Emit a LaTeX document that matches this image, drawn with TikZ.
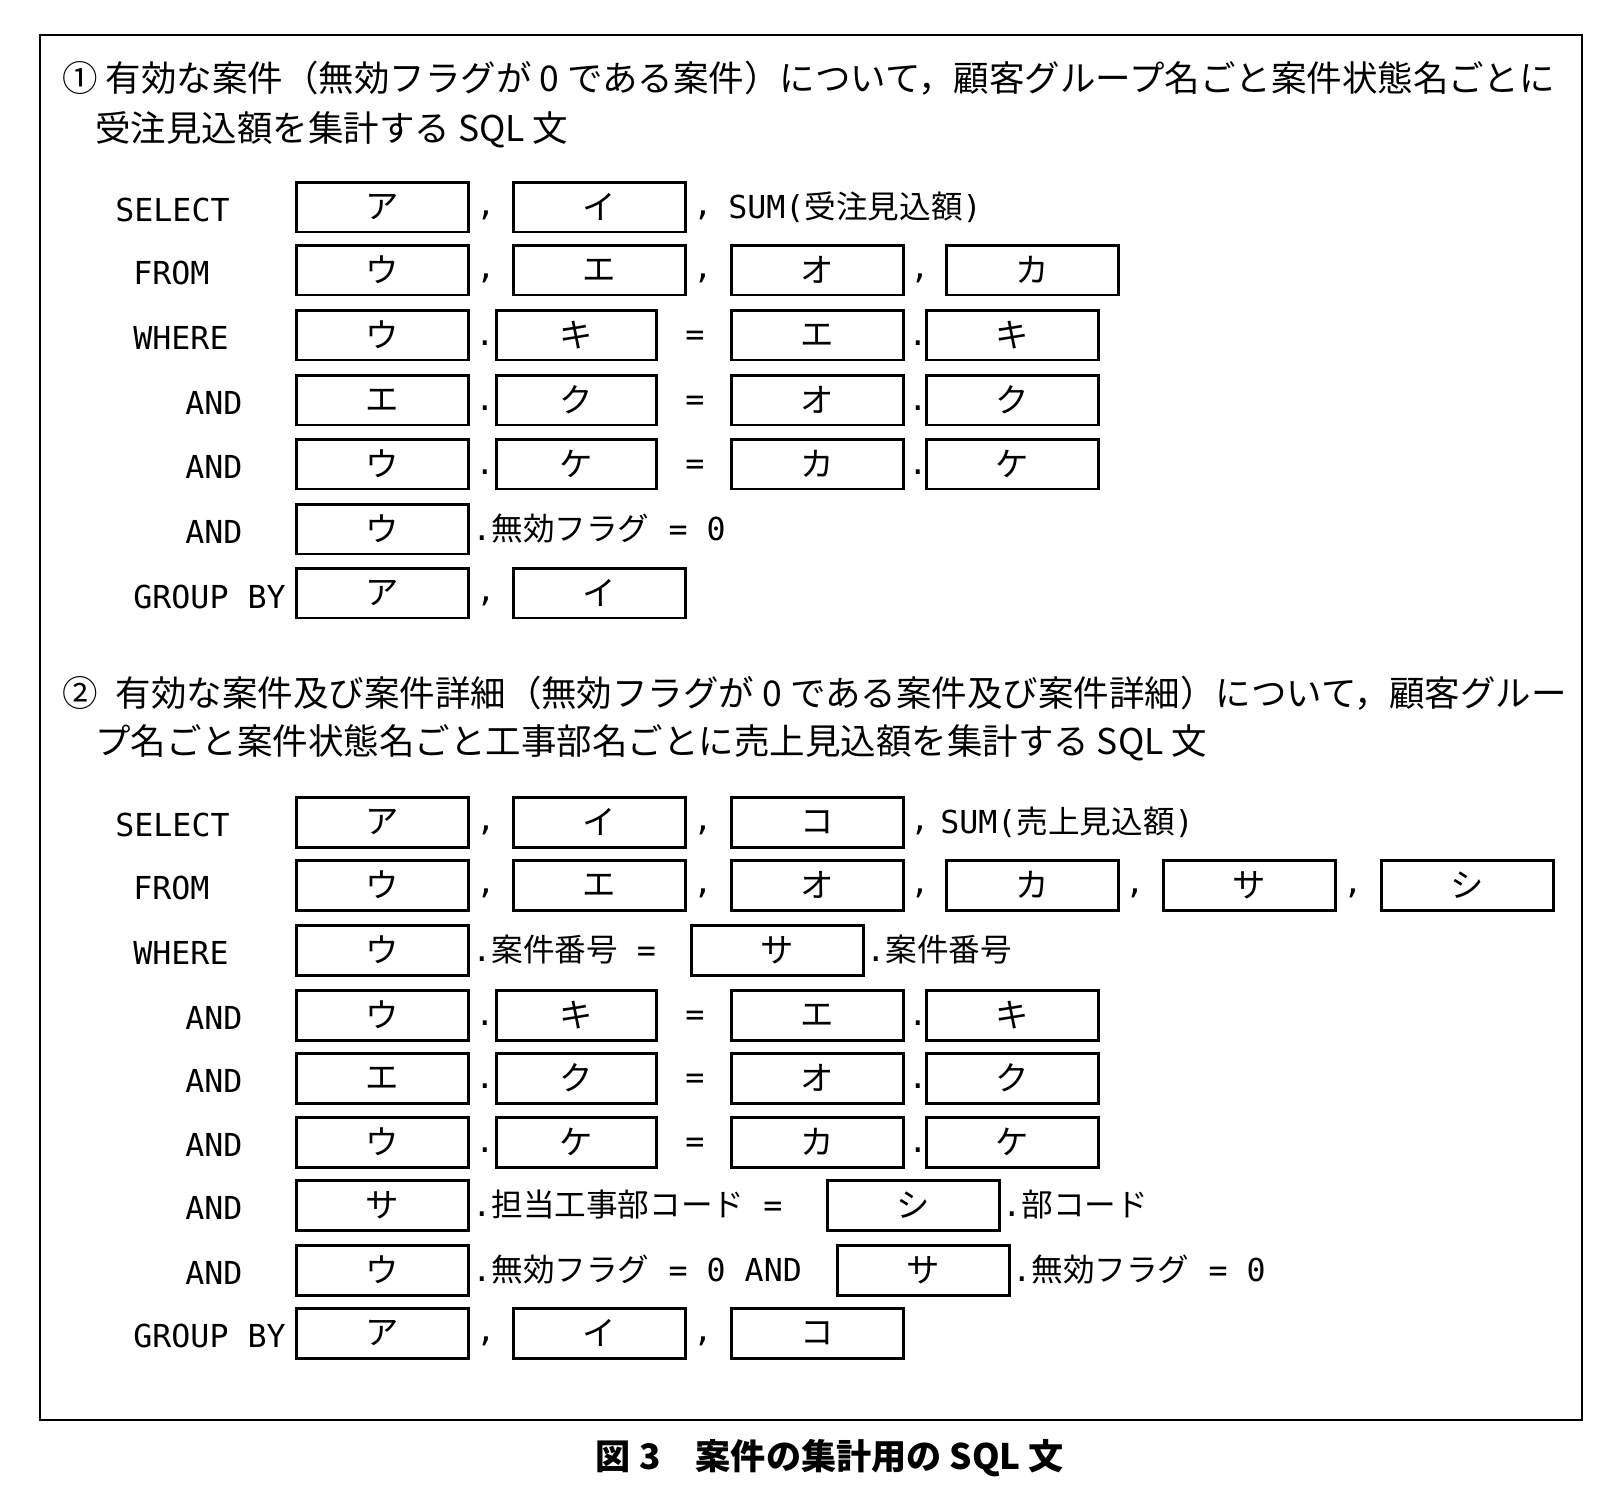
\documentclass[tikz,border=0pt]{standalone}
\usepackage{fontspec}
\setmainfont{Noto Sans CJK JP}
\newfontfamily\m{DejaVu Sans Mono}
\begin{document}
\begin{tikzpicture}[x=0.02cm,y=-0.02cm,
 bx/.style={draw,line width=1.7pt,minimum width=3.44cm,minimum height=1.0cm,inner sep=0pt,anchor=west,font=\fontsize{19}{20}\selectfont},
 nb/.style={draw,line width=1.7pt,minimum width=3.2cm,minimum height=1.0cm,inner sep=0pt,anchor=west,font=\fontsize{19}{20}\selectfont},
 tx/.style={anchor=west,inner sep=0pt,font=\fontsize{18}{20}\selectfont},
 kw/.style={anchor=west,inner sep=0pt,font=\m\fontsize{18}{20}\selectfont},
 hd/.style={anchor=west,inner sep=0pt,font=\fontsize{20.2}{22}\selectfont}]
\useasboundingbox (0,0) rectangle (1600,1502);
\draw[line width=1.2pt] (40,35) rectangle (1582,1420);
\node[font=\bfseries\fontsize{20}{22}\selectfont] (cap) at (830,1458) {図 3\quad 案件の集計用の SQL 文};
% section 1
\node[hd] (h1a) at (62,78) {① 有効な案件（無効フラグが 0 である案件）について，顧客グループ名ごと案件状態名ごとに};
\node[hd] (h1b) at (95,130) {受注見込額を集計する SQL 文};
\node[kw] (k1) at (115,210) {SELECT};
\node[bx] (a1) at (295,207) {ア}; \node[kw] (c1) at (476,215) {,};
\node[bx] (a2) at (512,207) {イ}; \node[kw] (c2) at (693,215) {,};
\node[tx] (s1) at (728,207) {{\m SUM(}受注見込額{\m )}};
\node[kw] (k2) at (133,273) {FROM};
\node[bx] (b1) at (295,270) {ウ}; \node[kw] (c3) at (476,278) {,};
\node[bx] (b2) at (512,270) {エ}; \node[kw] (c4) at (693,278) {,};
\node[bx] (b3) at (730,270) {オ}; \node[kw] (c5) at (910,278) {,};
\node[bx] (b4) at (945,270) {カ};
\foreach \yy/\kx/\kk/\p/\q/\r/\s/\n in {335/133/WHERE/ウ/キ/エ/キ/w1,400/185/AND/エ/ク/オ/ク/w2,464/185/AND/ウ/ケ/カ/ケ/w3,1015/185/AND/ウ/キ/エ/キ/v1,1078/185/AND/エ/ク/オ/ク/v2,1142/185/AND/ウ/ケ/カ/ケ/v3}{
 \node[kw] (\n k) at (\kx,\yy+3) {\kk};
 \node[bx] (\n a) at (295,\yy) {\p}; \node[kw] (\n d1) at (475,\yy+8) {.};
 \node[nb] (\n b) at (495,\yy) {\q}; \node[kw] (\n e) at (685,\yy+3) {=};
 \node[bx] (\n c) at (730,\yy) {\r}; \node[kw] (\n d2) at (908,\yy+8) {.};
 \node[bx] (\n d) at (925,\yy) {\s};
}
\node[kw] (k6) at (185,532) {AND};
\node[bx] (e1) at (295,529) {ウ};
\node[tx] (t6) at (472,529) {{\m .}無効フラグ{\m{} = 0}};
\node[kw] (k7) at (133,597) {GROUP BY};
\node[bx] (g1) at (295,593) {ア}; \node[kw] (c6) at (476,601) {,};
\node[bx] (g2) at (512,593) {イ};
% section 2
\node[hd] (h2a) at (62,693) {②\; 有効な案件及び案件詳細（無効フラグが 0 である案件及び案件詳細）について，顧客グルー};
\node[hd] (h2b) at (95,743) {プ名ごと案件状態名ごと工事部名ごとに売上見込額を集計する SQL 文};
\node[kw] (q1) at (115,825) {SELECT};
\node[bx] (p1) at (295,822) {ア}; \node[kw] (d1) at (476,830) {,};
\node[bx] (p2) at (512,822) {イ}; \node[kw] (d2) at (693,830) {,};
\node[bx] (p3) at (730,822) {コ}; \node[kw] (d3) at (910,830) {,};
\node[tx] (s2) at (940,822) {{\m SUM(}売上見込額{\m )}};
\node[kw] (q2) at (133,888) {FROM};
\node[bx] (f1) at (295,885) {ウ}; \node[kw] (d4) at (476,893) {,};
\node[bx] (f2) at (512,885) {エ}; \node[kw] (d5) at (693,893) {,};
\node[bx] (f3) at (730,885) {オ}; \node[kw] (d6) at (910,893) {,};
\node[bx] (f4) at (945,885) {カ}; \node[kw] (d7) at (1125,893) {,};
\node[bx] (f5) at (1162,885) {サ}; \node[kw] (d8) at (1343,893) {,};
\node[bx] (f6) at (1380,885) {シ};
\node[kw] (q3) at (133,953) {WHERE};
\node[bx] (r1) at (295,950) {ウ};
\node[tx] (r2) at (472,950) {{\m .}案件番号{\m{} =}};
\node[bx] (r3) at (690,950) {サ};
\node[tx] (r4) at (866,950) {{\m .}案件番号};
\node[kw] (q4) at (185,1208) {AND};
\node[bx] (u1) at (295,1205) {サ};
\node[tx] (u2) at (472,1205) {{\m .}担当工事部コード{\m{} =}};
\node[bx] (u3) at (826,1205) {シ};
\node[tx] (u4) at (1002,1205) {{\m .}部コード};
\node[kw] (q5) at (185,1273) {AND};
\node[bx] (x1) at (295,1270) {ウ};
\node[tx] (x2) at (472,1270) {{\m .}無効フラグ{\m{} = 0 AND}};
\node[bx] (x3) at (836,1270) {サ};
\node[tx] (x4) at (1012,1270) {{\m .}無効フラグ{\m{} = 0}};
\node[kw] (q6) at (133,1336) {GROUP BY};
\node[bx] (z1) at (295,1333) {ア}; \node[kw] (d9) at (476,1341) {,};
\node[bx] (z2) at (512,1333) {イ}; \node[kw] (d10) at (693,1341) {,};
\node[bx] (z3) at (730,1333) {コ};
\end{tikzpicture}
\end{document}
